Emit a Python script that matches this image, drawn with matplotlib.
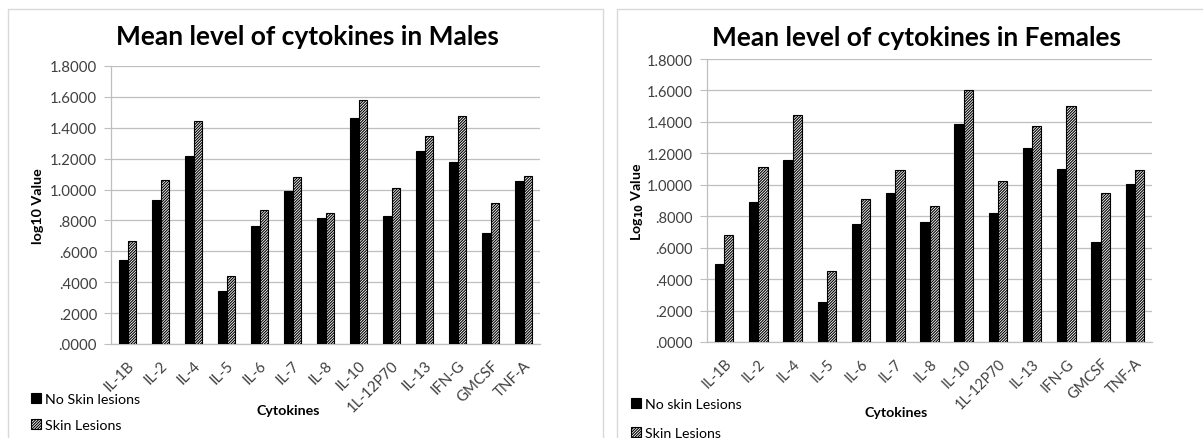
import matplotlib
matplotlib.use("Agg")
import matplotlib.pyplot as plt
import numpy as np
from matplotlib.lines import Line2D

plt.rcParams["font.family"] = ["Lato", "DejaVu Sans"]
plt.rcParams["hatch.linewidth"] = 0.8
plt.rcParams["mathtext.default"] = "bf"

cytokines = ["IL-1B", "IL-2", "IL-4", "IL-5", "IL-6", "IL-7", "IL-8", "IL-10",
             "1L-12P70", "IL-13", "IFN-G", "GMCSF", "TNF-A"]

male_no_lesions = [0.543, 0.933, 1.218, 0.345, 0.765, 0.989, 0.819, 1.461,
                   0.830, 1.250, 1.181, 0.716, 1.056]
male_lesions = [0.664, 1.060, 1.444, 0.438, 0.869, 1.082, 0.851, 1.582,
                1.011, 1.349, 1.476, 0.912, 1.086]

female_no_lesions = [0.498, 0.892, 1.159, 0.256, 0.748, 0.947, 0.761, 1.388,
                     0.820, 1.235, 1.102, 0.633, 1.006]
female_lesions = [0.682, 1.112, 1.441, 0.451, 0.907, 1.095, 0.864, 1.604,
                  1.021, 1.377, 1.498, 0.949, 1.095]

y_ticks = [0.0, 0.2, 0.4, 0.6, 0.8, 1.0, 1.2, 1.4, 1.6, 1.8]
y_tick_labels = [".0000", ".2000", ".4000", ".6000", ".8000",
                 "1.0000", "1.2000", "1.4000", "1.6000", "1.8000"]

W, H = 1203, 439
fig = plt.figure(figsize=(W / 100, H / 100), dpi=100)
fig.patch.set_facecolor("white")


def fx(px):
    return px / W


def fy(py):
    return 1 - py / H


# chart frames
border = "#d9d9d9"
fig.add_artist(Line2D([fx(8), fx(8), fx(603), fx(603)], [0, fy(10), fy(10), 0],
                      color=border, lw=1.0, transform=fig.transFigure))
fig.add_artist(Line2D([fx(617), fx(617), 1.0], [0, fy(10), fy(10)],
                      color=border, lw=1.0, transform=fig.transFigure))

grid_col = "#bfbfbf"
bar_w = 0.27


def draw_panel(rect, no_les, les, title, title_xy, ylabel, ylabel_x,
               xlabel_xy, leg_labels, leg_xy, leg_spacing, fs, leg_fs):
    ax = fig.add_axes(rect)
    x = np.arange(len(cytokines))
    b1 = ax.bar(x - bar_w / 2, no_les, width=bar_w, color="black",
                edgecolor="black", linewidth=0.8, label=leg_labels[0], zorder=3)
    b2 = ax.bar(x + bar_w / 2, les, width=bar_w, color="white",
                edgecolor="black", hatch="////////////", linewidth=0.8,
                label=leg_labels[1], zorder=3)
    ax.set_xlim(-0.5, len(cytokines) - 0.5)
    ax.set_ylim(0, 1.8)
    ax.set_yticks(y_ticks)
    ax.set_yticklabels(y_tick_labels, fontsize=fs, color="#404040")
    ax.set_xticks(x)
    ax.set_xticklabels(cytokines, rotation=45, ha="right", va="top",
                       rotation_mode="anchor", fontsize=fs, color="#404040")
    ax.tick_params(axis="x", length=0, pad=10)
    ax.tick_params(axis="y", length=5, width=0.8, color=grid_col, pad=5)
    ax.yaxis.grid(True, color=grid_col, lw=0.9, zorder=0)
    ax.set_axisbelow(True)
    for s in ["top", "right"]:
        ax.spines[s].set_visible(False)
    for s in ["left", "bottom"]:
        ax.spines[s].set_color(grid_col)
        ax.spines[s].set_linewidth(0.9)
    fig.text(fx(title_xy[0]), fy(title_xy[1]), title, ha="center",
             va="center", fontsize=19, fontweight="bold")
    fig.text(fx(ylabel_x), ax.get_position().y0 + ax.get_position().height / 2,
             ylabel, rotation=90, ha="center", va="center", fontsize=leg_fs,
             fontweight="bold")
    fig.text(fx(xlabel_xy[0]), fy(xlabel_xy[1]), "Cytokines", ha="center",
             va="center", fontsize=leg_fs, fontweight="bold")
    fig.legend(handles=[b1, b2], loc="upper left",
               bbox_to_anchor=(fx(leg_xy[0]), fy(leg_xy[1])),
               bbox_transform=fig.transFigure, frameon=False, fontsize=leg_fs,
               handlelength=0.7, handleheight=0.7, handletextpad=0.3,
               labelspacing=leg_spacing, borderpad=0, borderaxespad=0)
    return ax


draw_panel([fx(111), fy(345), fx(540) - fx(111), fy(67) - fy(345)],
           male_no_lesions, male_lesions,
           "Mean level of cytokines in Males", (307, 37),
           "log10 Value", 38, (288, 411),
           ["No Skin lesions", "Skin Lesions"], (31, 394), 0.95, 10.8, 10.3)

draw_panel([fx(707), fy(343), fx(1152) - fx(707), fy(60) - fy(343)],
           female_no_lesions, female_lesions,
           "Mean level of cytokines in Females", (917, 38),
           "Log$_{10}$ Value", 638, (896, 413),
           ["No skin Lesions", "Skin Lesions"], (631, 399), 1.2, 10.5, 10.2)

fig.savefig("out.png", dpi=100, facecolor="white")
